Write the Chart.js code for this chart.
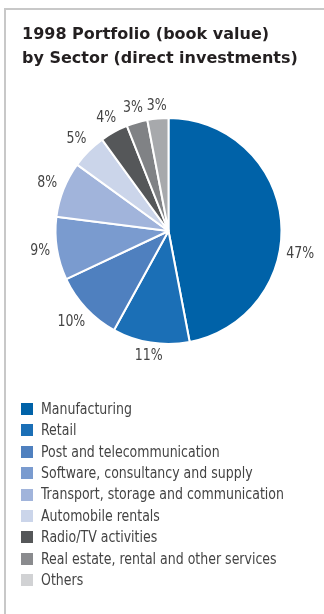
<!DOCTYPE html>
<html>
<head>
<meta charset="utf-8">
<title>1998 Portfolio by Sector</title>
<script src="https://cdn.jsdelivr.net/npm/chart.js@4.4.1/dist/chart.umd.min.js"></script>
<style>
  html, body { margin: 0; padding: 0; background: #fff; }
  #panel { position: relative; width: 324px; height: 614px; overflow: hidden; }
  #panel canvas { position: absolute; left: 0; top: 0; }
  /* thin grey frame along the top and left edges */
  .rule-top { position: absolute; left: 4px; top: 8px; width: 320px; height: 2px; background: #c8c8c8; }
  .rule-left { position: absolute; left: 4px; top: 8px; width: 2px; height: 606px; background: #c8c8c8; }
</style>
</head>
<body>
<div id="panel">
  <div class="rule-top"></div>
  <div class="rule-left"></div>
  <canvas id="sectorChart" width="324" height="614"></canvas>
</div>
<script>
const titleLines = ["1998 Portfolio (book value)", "by Sector (direct investments)"];

const sectors = [
  "Manufacturing",
  "Retail",
  "Post and telecommunication",
  "Software, consultancy and supply",
  "Transport, storage and communication",
  "Automobile rentals",
  "Radio/TV activities",
  "Real estate, rental and other services",
  "Others"
];

// share of book value, percent
const shares = [47, 11, 10, 9, 8, 5, 4, 3, 3];

const sliceColors = ["#0062a8", "#1b6fb6", "#4f80bf", "#7a9bcf", "#a1b4db", "#cbd5ea", "#555759", "#808285", "#a7a9ac"];
const legendColors = ["#0062a8", "#1b6fb6", "#4f80bf", "#7a9bcf", "#a1b4db", "#cbd5ea", "#555759", "#8a8b8e", "#d1d2d4"];

const textFont = '15px "DejaVu Sans Condensed", "Liberation Sans Narrow", sans-serif';

// draws text squeezed horizontally, anchored at x
function drawNarrow(ctx, text, x, y, squeeze) {
  ctx.save();
  ctx.translate(x, y);
  ctx.scale(squeeze, 1);
  ctx.fillText(text, 0, 0);
  ctx.restore();
}

// heading in the top left corner
const headingPlugin = {
  id: "heading",
  afterDraw(chart, args, opts) {
    const ctx = chart.ctx;
    ctx.save();
    ctx.font = opts.font;
    ctx.fillStyle = opts.color;
    ctx.textBaseline = "alphabetic";
    ctx.textAlign = "left";
    opts.lines.forEach((line, i) => ctx.fillText(line, opts.x, opts.y + i * opts.lineHeight));
    ctx.restore();
  }
};

// percent labels outside each slice
const outerLabels = {
  id: "outerLabels",
  afterDatasetsDraw(chart, args, opts) {
    const ctx = chart.ctx;
    const meta = chart.getDatasetMeta(0);
    const values = chart.data.datasets[0].data;
    ctx.save();
    ctx.font = opts.font;
    ctx.fillStyle = opts.color;
    ctx.textAlign = "center";
    ctx.textBaseline = "middle";
    meta.data.forEach((arc, i) => {
      const text = values[i] + "%";
      const shift = (opts.angleShift[i] || 0) * Math.PI / 180;
      const a = (arc.startAngle + arc.endAngle) / 2 + shift;
      const hw = ctx.measureText(text).width * opts.squeeze / 2;
      const hh = 6;
      const r = arc.outerRadius + opts.gap + hw * Math.abs(Math.cos(a)) + hh * Math.abs(Math.sin(a));
      drawNarrow(ctx, text, arc.x + r * Math.cos(a), arc.y + r * Math.sin(a), opts.squeeze);
    });
    ctx.restore();
  }
};

// one legend row per sector below the pie
const legendList = {
  id: "legendList",
  afterDraw(chart, args, opts) {
    const ctx = chart.ctx;
    ctx.save();
    ctx.font = opts.font;
    ctx.textBaseline = "middle";
    ctx.textAlign = "left";
    chart.data.labels.forEach((name, i) => {
      const y = opts.top + i * opts.rowHeight;
      ctx.fillStyle = opts.colors[i];
      ctx.fillRect(opts.boxLeft, Math.round(y - opts.boxSize / 2), opts.boxSize, opts.boxSize);
      ctx.fillStyle = opts.color;
      drawNarrow(ctx, name, opts.textLeft, y + 1, opts.squeeze);
    });
    ctx.restore();
  }
};

new Chart(document.getElementById("sectorChart"), {
  type: "pie",
  data: {
    labels: sectors,
    datasets: [{
      data: shares,
      backgroundColor: sliceColors,
      borderColor: "#ffffff",
      borderWidth: 2
    }]
  },
  plugins: [headingPlugin, outerLabels, legendList],
  options: {
    responsive: false,
    devicePixelRatio: 1,
    animation: false,
    events: [],
    layout: { padding: { left: 54.5, right: 41.5, top: 117, bottom: 269 } },
    plugins: {
      legend: { display: false },
      tooltip: { enabled: false },
      heading: {
        lines: titleLines,
        font: 'bold 16px "DejaVu Sans", sans-serif',
        color: "#231f20",
        x: 22,
        y: 38.5,
        lineHeight: 24.5
      },
      outerLabels: {
        font: textFont,
        color: "#444444",
        gap: 6,
        squeeze: 0.93,
        angleShift: [15.5]
      },
      legendList: {
        font: textFont,
        color: "#444444",
        colors: legendColors,
        squeeze: 0.93,
        top: 409,
        rowHeight: 21.4,
        boxLeft: 21,
        boxSize: 12,
        textLeft: 41
      }
    }
  }
});
</script>
</body>
</html>
